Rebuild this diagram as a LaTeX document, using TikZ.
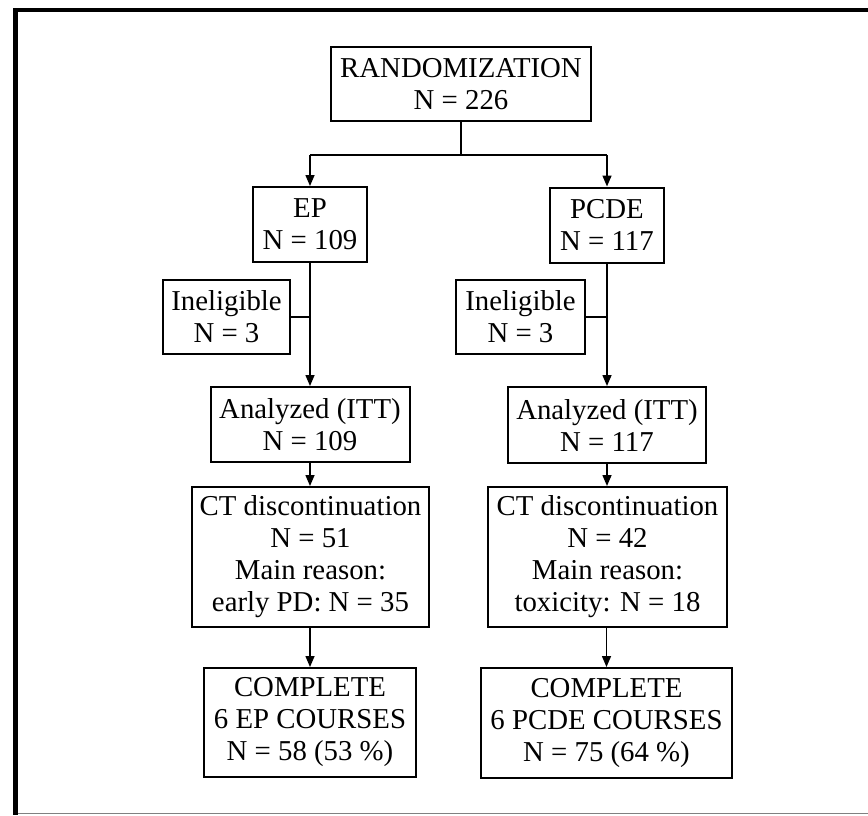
\documentclass[tikz,border=0pt]{standalone}
\usepackage{fontspec}
\setmainfont{Liberation Serif}
\usetikzlibrary{arrows.meta}
\begin{document}
\begin{tikzpicture}[x=1pt,y=-1pt,
  box/.style={draw=black, line width=2pt, align=center, inner sep=0pt,
    font=\fontsize{28.8pt}{32pt}\selectfont},
  link/.style={line width=1.5pt},
  arr/.style={line width=1.5pt, -{Triangle[length=11pt,width=9pt]}}]
\useasboundingbox (0,0) rectangle (868,815);
% frame
\draw[line width=4pt] (13,10) -- (868,10);
\draw[line width=5pt] (15.5,8) -- (15.5,815);
\draw[line width=1.2pt, gray] (18,813.5) -- (868,813.5);
% nodes
\node[box, minimum width=260pt, minimum height=74pt] (R) at (461,84) {RANDOMIZATION\\N = 226};
\node[box, minimum width=114pt, minimum height=75pt] (EP) at (310,224.5) {EP\\N = 109};
\node[box, minimum width=114pt, minimum height=75pt] (PC) at (607,225) {PCDE\\N = 117};
\node[box, minimum width=127pt, minimum height=74pt] (IL) at (226.5,317) {Ineligible\\N = 3};
\node[box, minimum width=129pt, minimum height=74pt] (IR) at (520.5,317) {Ineligible\\N = 3};
\node[box, minimum width=199pt, minimum height=75pt] (AL) at (310,424.5) {Analyzed (ITT)\\N = 109};
\node[box, minimum width=198pt, minimum height=76pt] (AR) at (607,425) {Analyzed (ITT)\\N = 117};
\node[box, minimum width=237pt, minimum height=140pt] (CL) at (310.5,557) {CT discontinuation\\N = 51\\Main reason:\\early PD: N = 35};
\node[box, minimum width=239pt, minimum height=140pt] (CR) at (607.5,557) {CT discontinuation\\N = 42\\Main reason:\\toxicity: N = 18};
\node[box, minimum width=212pt, minimum height=109pt] (OL) at (310,722.5) {COMPLETE\\6 EP COURSES\\N = 58 (53 \%)};
\node[box, minimum width=251pt, minimum height=110pt] (OR) at (606.5,723) {COMPLETE\\6 PCDE COURSES\\N = 75 (64 \%)};
% connectors
\coordinate (J) at (461,155);
\coordinate (JL) at (310,155);
\coordinate (JR) at (607,155);
\draw[link] (R.south) -- (J);
\draw[line width=2.8pt] (JL) -- (JR);
\draw[arr] (JL) -- (EP.north);
\draw[arr] (JR) -- (PC.north);
\draw[arr] (EP.south) -- (AL.north);
\draw[arr] (PC.south) -- (AR.north);
\draw[link] (IL.east) -- (IL.east -| EP.south);
\draw[link] (IR.east) -- (IR.east -| PC.south);
\draw[arr] (AL.south) -- (CL.north -| AL.south);
\draw[arr] (AR.south) -- (CR.north -| AR.south);
\draw[arr] (CL.south -| OL.north) -- (OL.north);
\draw[arr] (CR.south -| OR.north) -- (OR.north);
\end{tikzpicture}
\end{document}
